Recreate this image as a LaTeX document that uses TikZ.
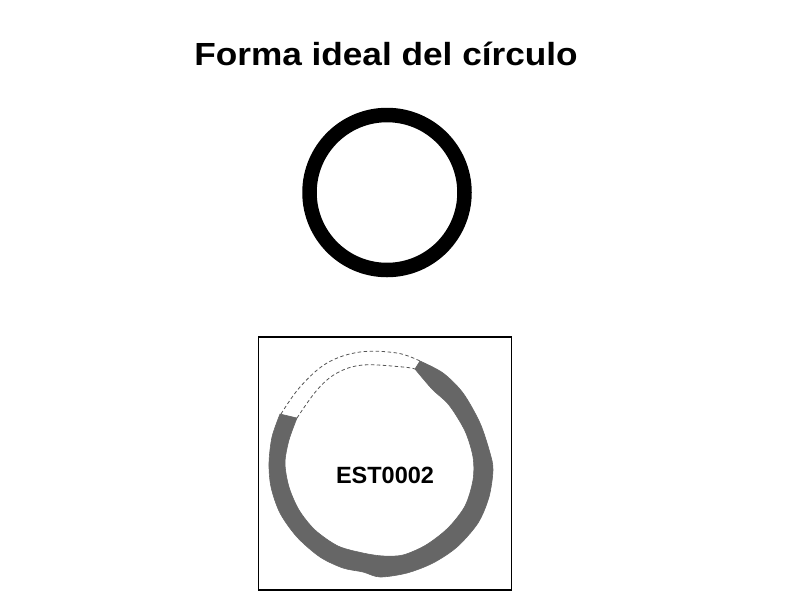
\documentclass[tikz,border=0pt]{standalone}
\usepackage{fontspec}
\setmainfont{Liberation Sans}
\begin{document}
\begin{tikzpicture}[x=1pt,y=-1pt,
  titletext/.style={font=\fontsize{32}{36}\selectfont\bfseries, inner sep=0pt, xscale=1.1},
  labeltext/.style={font=\fontsize{23.5}{26}\selectfont\bfseries, inner sep=0pt},
  ring/.style={fill=ringgray, draw=ringgray, line width=0.6pt, line join=miter},
  gapline/.style={draw=gapgray, dash pattern=on 3.5pt off 2.5pt, line width=0.8pt}]
\definecolor{ringgray}{HTML}{666666}
\definecolor{gapgray}{HTML}{555555}
\useasboundingbox (0,0) rectangle (804,614);
\node[titletext] (title) at (386,54) {Forma ideal del círculo};
\node[circle, draw=black, line width=14.5pt, minimum size=155pt, inner sep=0pt] (ideal) at (387,192.5) {};
\node[draw=black, line width=1.3pt, minimum width=253pt, minimum height=253pt, inner sep=0pt] (frame) at (385,463.5) {};
\fill[ring] plot[smooth, tension=0.5] coordinates {
 (420,361) (443,373) (463,393) (480,423) (490,453) (493,470) (489,497) (478,523)
 (457,547) (433,563) (407,573) (380,577) (363,572) (343,568) (320,557) (297,537)
 (280,513) (271,487) (269,463) (272,437) (280,414)}
 -- plot[smooth, tension=0.5] coordinates {
 (297,418) (289,440) (285,463) (289,487) (299,510) (315,530) (338,546) (363,553)
 (383,556) (403,555) (426,545) (448,528) (465,506) (473,480) (473,457) (465,431)
 (449,405) (432,389) (415,369)} -- cycle;
\draw[gapline] plot[smooth, tension=0.6] coordinates {(281,414) (300,387) (327,363) (360,352) (397,353) (420,361)};
\draw[gapline] plot[smooth, tension=0.6] coordinates {(297,418) (317,390) (337,373) (363,365) (403,367) (415,369)};
\node[labeltext] (code) at (385,475) {EST0002};
\end{tikzpicture}
\end{document}
